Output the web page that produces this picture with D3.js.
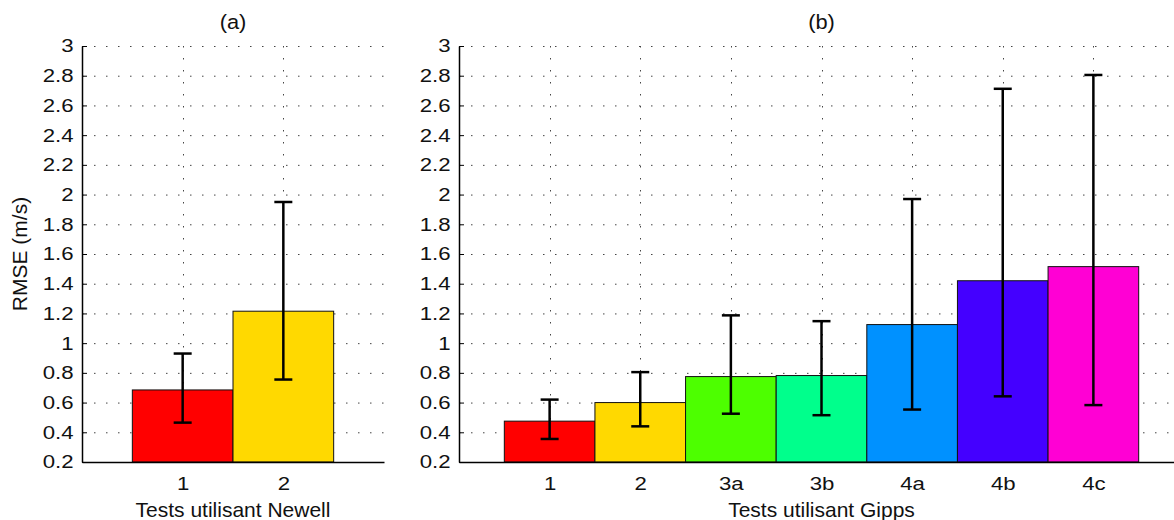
<!DOCTYPE html>
<html>
<head>
<meta charset="utf-8">
<script src="https://cdn.jsdelivr.net/npm/d3@7"></script>
<style>
  body { margin: 0; background: #fff; }
  svg { display: block; font-family: "Liberation Sans", Arial, sans-serif; }
</style>
</head>
<body>
<div id="container"></div>
<script>
// Data
const newellTests = ["1", "2"];
const newellRmse = [0.685, 1.215];
const newellLow = [0.465, 0.755];
const newellHigh = [0.93, 1.95];
const newellColors = ["#ff0000", "#ffd900"];

const gippsTests = ["1", "2", "3a", "3b", "4a", "4b", "4c"];
const gippsRmse = [0.475, 0.6, 0.775, 0.782, 1.125, 1.42, 1.515];
const gippsLow = [0.355, 0.44, 0.525, 0.515, 0.553, 0.642, 0.583];
const gippsHigh = [0.62, 0.805, 1.187, 1.148, 1.97, 2.712, 2.805];
const gippsColors = ["#ff0000", "#ffd900", "#4dff00", "#00ff8c", "#0091ff", "#4400ff", "#ff00d4"];

const yTicks = [0.2, 0.4, 0.6, 0.8, 1, 1.2, 1.4, 1.6, 1.8, 2, 2.2, 2.4, 2.6, 2.8, 3];

const width = 1174;
const height = 520;
const font = "'Liberation Sans', Arial, sans-serif";
const tickStretch = "scale(1.2,1)";

const svg = d3.select("#container")
  .append("svg")
  .attr("width", width)
  .attr("height", height);

const y = d3.scaleLinear().domain([0.2, 3]).range([462, 46]);

function drawPanel(opts) {
  const { left, right, nSlots, tests, rmse, low, high, colors, title, xLabel } = opts;
  const x = d3.scaleLinear().domain([0, nSlots]).range([left, right]);
  const g = svg.append("g");

  // grid
  g.selectAll(".hgrid")
    .data(yTicks)
    .enter()
    .append("line")
    .attr("x1", left)
    .attr("x2", right)
    .attr("y1", d => y(d) + 0.5)
    .attr("y2", d => y(d) + 0.5)
    .attr("stroke", "#444")
    .attr("stroke-width", 1)
    .attr("stroke-dasharray", "1.5,10.5");

  g.selectAll(".vgrid")
    .data(tests)
    .enter()
    .append("line")
    .attr("x1", (d, i) => Math.round(x(i + 1)) + 0.5)
    .attr("x2", (d, i) => Math.round(x(i + 1)) + 0.5)
    .attr("y1", y(3))
    .attr("y2", y(0.2))
    .attr("stroke", "#444")
    .attr("stroke-width", 1)
    .attr("stroke-dasharray", "1.5,10.5");

  // bars
  g.selectAll(".bar")
    .data(tests)
    .enter()
    .append("rect")
    .attr("x", (d, i) => x(i + 0.5))
    .attr("width", (d, i) => x(i + 1.5) - x(i + 0.5))
    .attr("y", (d, i) => y(rmse[i]))
    .attr("height", (d, i) => y(0.2) - y(rmse[i]))
    .attr("fill", (d, i) => colors[i])
    .attr("stroke", "#111")
    .attr("stroke-width", 1);

  // error bars
  const err = g.selectAll(".err")
    .data(tests)
    .enter()
    .append("g")
    .attr("stroke", "#000")
    .attr("stroke-width", 2.5);

  err.append("line")
    .attr("x1", (d, i) => x(i + 1))
    .attr("x2", (d, i) => x(i + 1))
    .attr("y1", (d, i) => y(low[i]))
    .attr("y2", (d, i) => y(high[i]));

  err.append("line")
    .attr("x1", (d, i) => x(i + 1) - 9)
    .attr("x2", (d, i) => x(i + 1) + 9)
    .attr("y1", (d, i) => y(low[i]))
    .attr("y2", (d, i) => y(low[i]));

  err.append("line")
    .attr("x1", (d, i) => x(i + 1) - 9)
    .attr("x2", (d, i) => x(i + 1) + 9)
    .attr("y1", (d, i) => y(high[i]))
    .attr("y2", (d, i) => y(high[i]));

  // y axis
  const yAxis = g.append("g")
    .attr("transform", `translate(${left},0)`)
    .call(d3.axisLeft(y).tickValues(yTicks).tickFormat(d3.format("~g")).tickSizeInner(-5).tickSizeOuter(0).tickPadding(7));
  yAxis.select(".domain").attr("stroke", "#000").attr("stroke-width", 1.5);
  yAxis.selectAll(".tick line").attr("stroke", "#000");
  yAxis.selectAll("text")
    .attr("fill", "#111")
    .attr("transform", tickStretch)
    .style("font-size", "18.5px")
    .style("font-family", font);

  // x axis
  const xAxis = g.append("g")
    .attr("transform", `translate(0,${y(0.2)})`)
    .call(d3.axisBottom(x).tickValues(d3.range(1, tests.length + 1)).tickFormat(d => tests[d - 1]).tickSize(0).tickPadding(15));
  xAxis.select(".domain").attr("stroke", "#000").attr("stroke-width", 1.5);
  xAxis.selectAll("text")
    .attr("fill", "#111")
    .attr("transform", tickStretch)
    .style("font-size", "18.5px")
    .style("font-family", font);

  // titles
  g.append("g")
    .attr("transform", `translate(${(left + right) / 2},29) scale(1.12,1)`)
    .append("text")
    .attr("text-anchor", "middle")
    .attr("fill", "#111")
    .style("font-size", "19.5px")
    .style("font-family", font)
    .text(title);

  g.append("text")
    .attr("x", (left + right) / 2)
    .attr("y", 517)
    .attr("text-anchor", "middle")
    .attr("fill", "#111")
    .style("font-size", "21px")
    .style("font-family", font)
    .text(xLabel);
}

drawPanel({
  left: 82, right: 384, nSlots: 3,
  tests: newellTests, rmse: newellRmse, low: newellLow, high: newellHigh, colors: newellColors,
  title: "(a)", xLabel: "Tests utilisant Newell"
});

drawPanel({
  left: 459, right: 1184, nSlots: 8,
  tests: gippsTests, rmse: gippsRmse, low: gippsLow, high: gippsHigh, colors: gippsColors,
  title: "(b)", xLabel: "Tests utilisant Gipps"
});

svg.append("text")
  .attr("transform", `translate(27,254) rotate(-90)`)
  .attr("text-anchor", "middle")
  .attr("fill", "#111")
  .style("font-size", "21px")
  .style("font-family", font)
  .text("RMSE (m/s)");
</script>
</body>
</html>
